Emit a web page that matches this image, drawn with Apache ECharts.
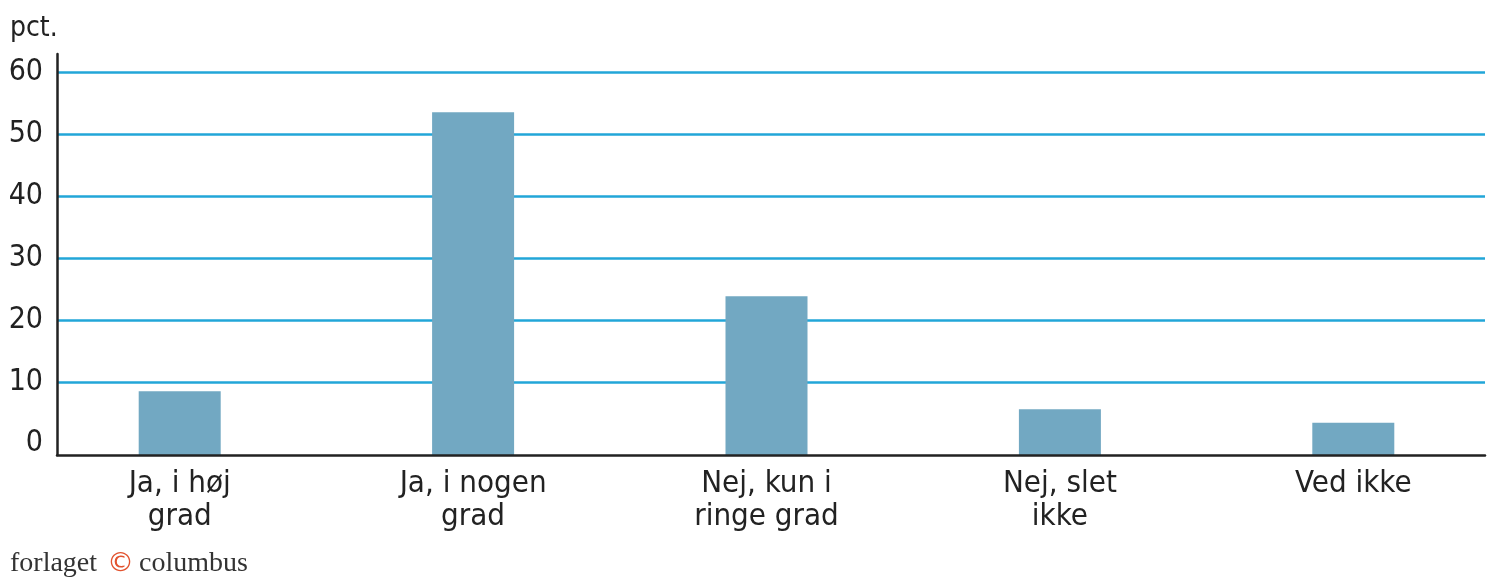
<!DOCTYPE html>
<html>
<head>
<meta charset="utf-8">
<script src="https://cdn.jsdelivr.net/npm/echarts@6/dist/echarts.min.js"></script>
<style>
  html, body { margin: 0; padding: 0; background: #fff; }
  #chart { width: 1500px; height: 581px; }
</style>
</head>
<body>
<div id="chart"></div>
<script>
// data
const categories = ["Ja, i høj\ngrad", "Ja, i nogen\ngrad", "Nej, kun i\nringe grad", "Nej, slet\nikke", "Ved ikke"];
const values = [8.5, 53.5, 23.8, 5.6, 3.4];
const yTicks = [0, 60, 10]; // min, max, step
const unitLabel = "pct.";

const BAR_COLOR = "#72a8c2";
const GRID_COLOR = "#22a6d8";
const TEXT_COLOR = "#222222";
const LABEL_FONT = "'Liberation Sans Narrow', 'DejaVu Sans Condensed', 'Roboto', sans-serif";
const SERIF_FONT = "'Liberation Serif', 'DejaVu Serif', serif";

const chart = echarts.init(document.getElementById("chart"), null, { renderer: "canvas" });

const option = {
    backgroundColor: "#ffffff",
    animation: false,
    grid: [
        // frame (black axis lines)
        { left: 57, right: 15, top: 54, bottom: 126 },
        // blue gridlines + y labels
        { left: 57, right: 15, top: 72, bottom: 137.3 },
        // bars + category labels
        { left: 33, right: -5, top: 72, bottom: 126 }
    ],
    xAxis: [
        {
            gridIndex: 0, type: "value", min: 0, max: 1, z: 5,
            axisLine: { show: true, lineStyle: { color: "#222", width: 2.5 } },
            axisTick: { show: false }, axisLabel: { show: false }, splitLine: { show: false }
        },
        {
            gridIndex: 1, type: "value", min: 0, max: 1, show: false
        },
        {
            gridIndex: 2, type: "category", data: categories,
            axisLine: { show: false }, axisTick: { show: false },
            axisLabel: {
                color: TEXT_COLOR, fontFamily: LABEL_FONT, fontSize: 31,
                lineHeight: 33, margin: 12, interval: 0
            }
        }
    ],
    yAxis: [
        {
            gridIndex: 0, type: "value", min: 0, max: 1, z: 5,
            axisLine: { show: true, lineStyle: { color: "#222", width: 2.5 } },
            axisTick: { show: false }, axisLabel: { show: false }, splitLine: { show: false }
        },
        {
            gridIndex: 1, type: "value", min: yTicks[0], max: yTicks[1], interval: yTicks[2],
            axisLine: { show: false }, axisTick: { show: false },
            axisLabel: { color: TEXT_COLOR, fontFamily: LABEL_FONT, fontSize: 30, margin: 14 },
            splitLine: { show: true, showMinLine: false, lineStyle: { color: GRID_COLOR, width: 2.5 } }
        },
        {
            gridIndex: 2, type: "value", min: -1.8, max: yTicks[1], startValue: -1.8, show: false
        }
    ],
    series: [
        {
            type: "bar",
            xAxisIndex: 2, yAxisIndex: 2,
            data: values,
            barWidth: 82,
            itemStyle: { color: BAR_COLOR },
            z: 3
        }
    ],
    graphic: [
        {
            type: "text", left: 10, top: 15,
            style: { text: unitLabel, fill: TEXT_COLOR, font: "28px " + LABEL_FONT }
        },
        {
            type: "text", left: 10, top: 550,
            style: {
                text: "{a|forlaget}{c|©}{a|columbus}",
                rich: {
                    a: { fontFamily: SERIF_FONT, fontSize: 28, fill: "#333" },
                    c: { fontFamily: "'DejaVu Sans', sans-serif", fontSize: 27, fill: "#e2532f", padding: [0, 5, 0, 10] }
                }
            }
        }
    ]
};

chart.setOption(option);
</script>
</body>
</html>
